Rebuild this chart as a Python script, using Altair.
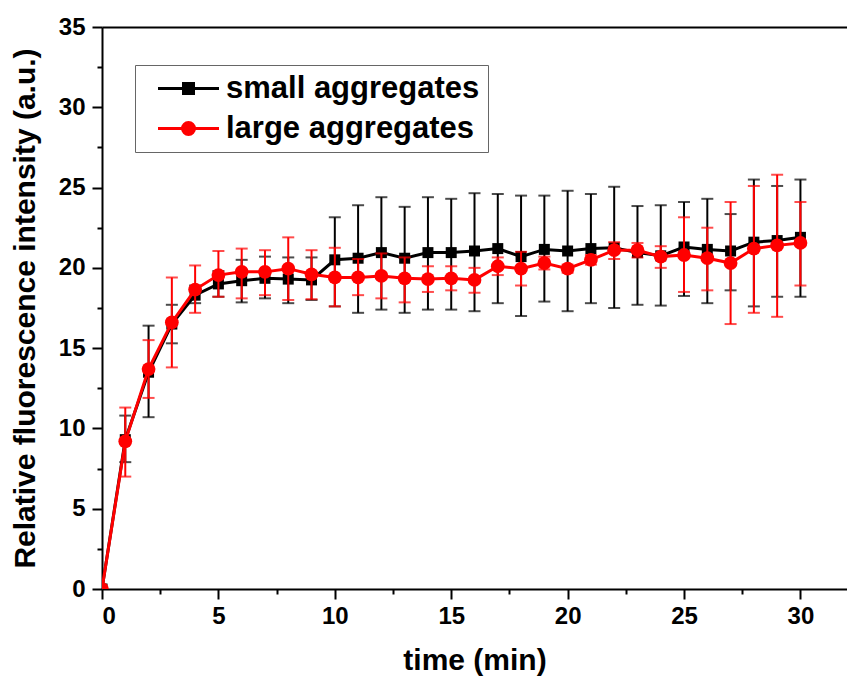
import altair as alt
import pandas as pd

# ---- data ----
time_min = list(range(31))

small_mean = [0, 9.3, 13.5, 16.5, 18.3, 19.0, 19.2, 19.35, 19.3, 19.25, 20.5, 20.6, 20.95, 20.6, 20.95, 20.95,
              21.05, 21.2, 20.7, 21.15, 21.05, 21.2, 21.25, 20.95, 20.75, 21.3, 21.15, 21.05, 21.6, 21.7, 21.9]
small_lo = [None, 7.9, 10.7, 15.3, 17.8, 18.2, 17.85, 18.1, 17.8, 18.0, 17.6, 17.2, 17.4, 17.2, 17.4, 17.4,
            17.3, 17.8, 17.0, 17.9, 17.3, 17.8, 17.5, 17.7, 17.65, 18.25, 17.8, 18.6, 17.6, 18.2, 18.2]
small_hi = [None, 10.8, 16.4, 17.7, 18.9, 19.8, 20.5, 20.7, 20.65, 20.65, 23.15, 23.9, 24.4, 23.8, 24.4, 24.3,
            24.65, 24.6, 24.5, 24.5, 24.8, 24.6, 25.05, 23.85, 23.9, 24.1, 24.3, 23.35, 25.5, 25.1, 25.5]

large_mean = [0, 9.2, 13.7, 16.6, 18.65, 19.55, 19.75, 19.75, 19.95, 19.6, 19.4, 19.4, 19.5, 19.35, 19.3, 19.35,
              19.25, 20.1, 19.95, 20.3, 19.95, 20.5, 21.1, 21.1, 20.7, 20.8, 20.6, 20.3, 21.2, 21.4, 21.55]
large_lo = [None, 7.0, 11.9, 13.8, 17.2, 18.2, 18.1, 18.3, 18.0, 18.05, 17.6, 18.3, 18.1, 17.85, 18.5, 18.6,
            18.45, 19.55, 18.9, 19.9, 19.7, 20.2, 20.55, 20.65, 20.0, 18.5, 18.6, 16.5, 17.2, 16.95, 18.9]
large_hi = [None, 11.3, 15.5, 19.4, 20.15, 21.05, 21.2, 21.1, 21.9, 21.1, 21.25, 20.55, 20.9, 20.65, 20.1, 20.1,
            20.0, 20.65, 21.0, 20.7, 20.2, 20.8, 21.6, 21.55, 21.35, 23.15, 22.5, 24.1, 25.1, 25.8, 24.1]

series_names = ["small aggregates", "large aggregates"]
series_colors = ["#000000", "#ff0000"]

x_major = [0, 5, 10, 15, 20, 25, 30]
x_minor = [2.5, 7.5, 12.5, 17.5, 22.5, 27.5]
y_major = [0, 5, 10, 15, 20, 25, 30, 35]
y_minor = [2.5, 7.5, 12.5, 17.5, 22.5, 27.5, 32.5]

rows = []
for name, m, lo, hi in [(series_names[0], small_mean, small_lo, small_hi),
                        (series_names[1], large_mean, large_lo, large_hi)]:
    for t, v, a, b in zip(time_min, m, lo, hi):
        rows.append({"t": t, "v": v, "lo": a, "hi": b, "series": name})
df = pd.DataFrame(rows)

FONT = "Liberation Sans"
W, H = 745, 562
xscale = alt.Scale(domain=[0, 32], nice=False, zero=False)
yscale = alt.Scale(domain=[0, 35], nice=False, zero=False)

main_x_axis = alt.Axis(orient="bottom", values=x_major, format="d", tickSize=10, tickWidth=2, tickColor="black",
                       domainWidth=2, domainColor="black", labelFont=FONT, labelFontSize=24,
                       labelFontWeight="bold", labelColor="black", labelPadding=5, grid=False,
                       title="time (min)", titleFont=FONT, titleFontSize=30, titleFontWeight="bold",
                       titleColor="black", titlePadding=17)
main_y_axis = alt.Axis(orient="left", values=y_major, format="d", tickSize=10, tickWidth=2, tickColor="black",
                       domainWidth=2, domainColor="black", labelFont=FONT, labelFontSize=24,
                       labelFontWeight="bold", labelColor="black", labelPadding=7, grid=False,
                       title="Relative fluorescence intensity (a.u.)", titleFont=FONT, titleFontSize=30,
                       titleFontWeight="bold", titleColor="black", titlePadding=18)

base = alt.Chart(df)


def series_layers(name, color, shape, size, with_axes):
    d = base.transform_filter(alt.datum.series == name)
    err = d.transform_filter("isValid(datum.lo)")
    xa = main_x_axis if with_axes else None
    ya = main_y_axis if with_axes else None
    rule = err.mark_rule(color=color, strokeWidth=2, clip=True).encode(
        x=alt.X("t:Q", scale=xscale, axis=xa),
        y=alt.Y("lo:Q", scale=yscale, axis=ya),
        y2="hi:Q")
    cap_lo = err.mark_tick(color=color, orient="horizontal", size=12, thickness=2, clip=True).encode(
        x=alt.X("t:Q", scale=xscale, axis=None), y=alt.Y("lo:Q", scale=yscale, axis=None))
    cap_hi = err.mark_tick(color=color, orient="horizontal", size=12, thickness=2, clip=True).encode(
        x=alt.X("t:Q", scale=xscale, axis=None), y=alt.Y("hi:Q", scale=yscale, axis=None))
    line = d.mark_line(color=color, strokeWidth=3, clip=True).encode(
        x=alt.X("t:Q", scale=xscale, axis=None), y=alt.Y("v:Q", scale=yscale, axis=None))
    pts = d.mark_point(color=color, filled=True, opacity=1, shape=shape, size=size, clip=True).encode(
        x=alt.X("t:Q", scale=xscale, axis=None), y=alt.Y("v:Q", scale=yscale, axis=None))
    return [rule, cap_lo, cap_hi, line, pts]


black_layers = series_layers(series_names[0], series_colors[0], "square", 121, True)
red_layers = series_layers(series_names[1], series_colors[1], "circle", 190, False)

minor_axes = base.mark_point(opacity=0).encode(
    x=alt.X("t:Q", scale=xscale, axis=alt.Axis(orient="bottom", values=x_minor, tickSize=5, tickWidth=2,
                                               tickColor="black", labels=False, domain=False, grid=False,
                                               title=None)),
    y=alt.Y("v:Q", scale=yscale, axis=alt.Axis(orient="left", values=y_minor, tickSize=5, tickWidth=2,
                                               tickColor="black", labels=False, domain=False, grid=False,
                                               title=None)))

top_axis = base.mark_point(opacity=0).encode(
    x=alt.X("t:Q", scale=xscale, axis=alt.Axis(orient="top", ticks=False, labels=False, domain=True,
                                               domainWidth=2, domainColor="black", grid=False, title=None)),
    y=alt.Y("v:Q", scale=yscale, axis=None))

# legend glyphs: a 61px line with a marker, drawn at symbol size 400 (unit = 10px)
sq_path = "M-3.05,0H3.05M-0.5,-0.5H0.5V0.5H-0.5Z"
ci_path = "M-3.05,0H3.05M0.6,0A0.6,0.6,0,1,1,-0.6,0A0.6,0.6,0,1,1,0.6,0Z"
leg = alt.Legend(orient="none", legendX=33, legendY=38, title=None, strokeColor="#666666", padding=8,
                 symbolSize=400, symbolStrokeWidth=3, symbolOffset=30, symbolOpacity=1,
                 labelFont=FONT, labelFontSize=31, labelFontWeight="bold", labelColor="black",
                 labelOffset=22, labelLimit=500, rowPadding=8)
legend_layer = base.transform_filter("false").mark_point(filled=True).encode(
    x=alt.X("t:Q", scale=xscale, axis=None),
    y=alt.Y("v:Q", scale=yscale, axis=None),
    fill=alt.Fill("series:N", scale=alt.Scale(domain=series_names, range=series_colors), legend=leg),
    stroke=alt.Stroke("series:N", scale=alt.Scale(domain=series_names, range=series_colors), legend=leg),
    shape=alt.Shape("series:N", scale=alt.Scale(domain=series_names, range=[sq_path, ci_path]), legend=leg),
)

chart = alt.layer(*black_layers, *red_layers, minor_axes, top_axis, legend_layer).resolve_axis(
    x="independent", y="independent"
).properties(
    width=W, height=H,
    autosize=alt.AutoSizeParams(type="none"),
    padding={"left": 94, "top": 19, "right": 0, "bottom": 88},
    background="white",
).configure_view(stroke=None)

chart.save("out.html", embed_options={"renderer": "svg", "actions": False})
